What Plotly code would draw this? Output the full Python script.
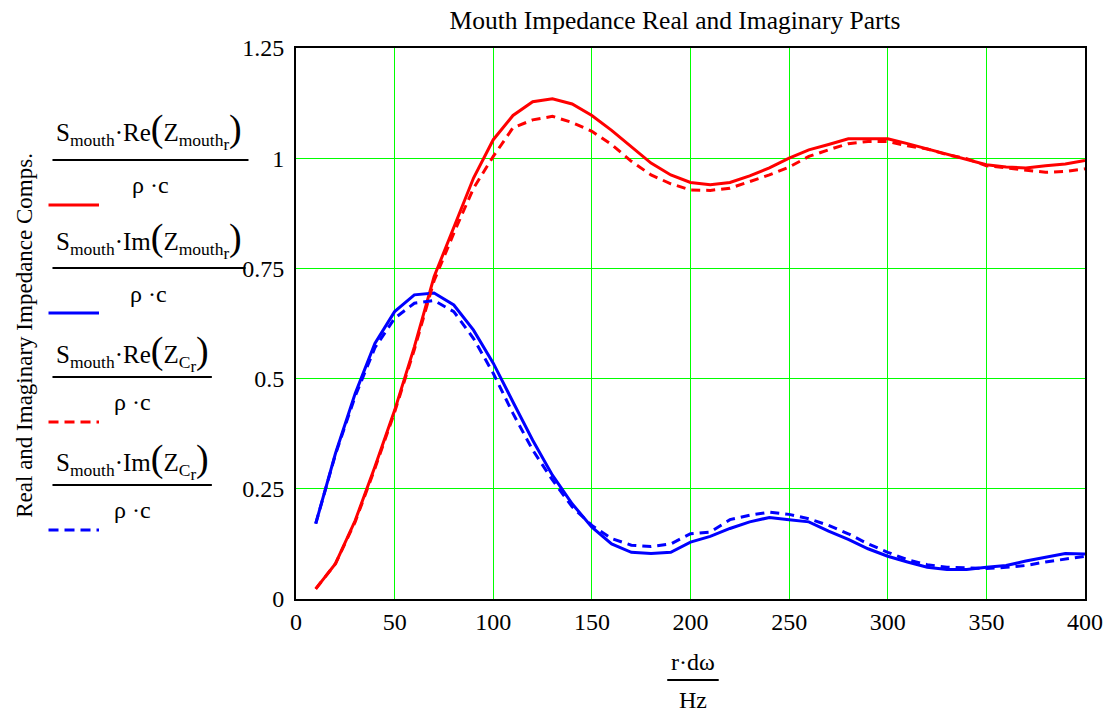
import plotly.graph_objects as go

# Frequency samples (Hz)
freq = list(range(10, 410, 10))

# Normalised mouth impedance, real and imaginary parts
re_mouth = [0.023, 0.080, 0.178, 0.300, 0.428, 0.572, 0.731, 0.845, 0.955, 1.042,
            1.097, 1.128, 1.135, 1.123, 1.097, 1.063, 1.027, 0.989, 0.962, 0.945,
            0.940, 0.945, 0.960, 0.978, 1.000, 1.019, 1.031, 1.044, 1.044, 1.044,
            1.033, 1.021, 1.008, 0.997, 0.985, 0.980, 0.978, 0.983, 0.987, 0.995]
im_mouth = [0.171, 0.330, 0.466, 0.580, 0.652, 0.690, 0.694, 0.667, 0.610, 0.535,
            0.447, 0.360, 0.281, 0.216, 0.163, 0.125, 0.106, 0.103, 0.106, 0.129,
            0.142, 0.160, 0.175, 0.185, 0.180, 0.175, 0.154, 0.135, 0.114, 0.097,
            0.084, 0.072, 0.067, 0.067, 0.072, 0.076, 0.086, 0.095, 0.103, 0.102]
# Normalised circular-piston impedance, real and imaginary parts
re_c = [0.023, 0.080, 0.175, 0.296, 0.424, 0.566, 0.722, 0.830, 0.932, 1.004,
        1.069, 1.087, 1.095, 1.081, 1.061, 1.031, 0.993, 0.962, 0.942, 0.928,
        0.927, 0.932, 0.947, 0.962, 0.980, 1.004, 1.019, 1.033, 1.038, 1.038,
        1.028, 1.021, 1.008, 0.999, 0.983, 0.978, 0.972, 0.968, 0.970, 0.976]
im_c = [0.171, 0.328, 0.460, 0.570, 0.637, 0.671, 0.677, 0.652, 0.591, 0.512,
        0.421, 0.338, 0.270, 0.209, 0.167, 0.137, 0.122, 0.119, 0.125, 0.148,
        0.152, 0.180, 0.190, 0.197, 0.192, 0.182, 0.167, 0.148, 0.125, 0.106,
        0.089, 0.078, 0.072, 0.070, 0.069, 0.072, 0.076, 0.084, 0.091, 0.097]

x_ticks = [0, 50, 100, 150, 200, 250, 300, 350, 400]
y_ticks = [0, 0.25, 0.5, 0.75, 1, 1.25]
y_tick_text = ["0", "0.25", "0.5", "0.75", "1", "1.25"]

RED = "#ff0000"
BLUE = "#0000ff"
SERIF = "Liberation Serif, Times New Roman, serif"
DASH = "9px,6px"
FS = 24

W, H = 1115, 713
L, R, T, B = 296, 22, 48, 114
PW, PH = W - L - R, H - T - B


def px(x):
    return (x - L) / PW


def py(y):
    return (H - B - y) / PH


fig = go.Figure()
series = [
    (re_mouth, RED, "solid"),
    (im_mouth, BLUE, "solid"),
    (re_c, RED, DASH),
    (im_c, BLUE, DASH),
]
for vals, col, dash in series:
    fig.add_trace(go.Scatter(x=freq, y=vals, mode="lines",
                             line=dict(color=col, width=3, dash=dash),
                             showlegend=False))

BIG = "<span style='font-size:38px'>%s</span>"
R_SUB = "<sub><span style='font-size:17px'>r</span></sub>"
numerators = [
    "S<sub>mouth</sub>·Re" + BIG % "(" + "Z<sub>mouth" + R_SUB + "</sub>" + BIG % ")",
    "S<sub>mouth</sub>·Im" + BIG % "(" + "Z<sub>mouth" + R_SUB + "</sub>" + BIG % ")",
    "S<sub>mouth</sub>·Re" + BIG % "(" + "Z<sub>C" + R_SUB + "</sub>" + BIG % ")",
    "S<sub>mouth</sub>·Im" + BIG % "(" + "Z<sub>C" + R_SUB + "</sub>" + BIG % ")",
]
# legend block layout (pixel coordinates)
num_y = [130, 239, 352, 460]
bar_y = [160, 268, 377, 485]
bar_x1 = [248, 245, 211, 211]
den_y = [185, 294, 402, 510]
swatch_y = [205, 313, 422, 530]
swatch_style = [(RED, "solid"), (BLUE, "solid"), (RED, "dash"), (BLUE, "dash")]

annotations = []
shapes = []
for i in range(4):
    annotations.append(dict(x=px(52), y=py(num_y[i]), xref="paper", yref="paper",
                            text=numerators[i], showarrow=False, xanchor="left",
                            yanchor="middle", font=dict(family=SERIF, size=25, color="black")))
    annotations.append(dict(x=px((50 + bar_x1[i]) / 2), y=py(den_y[i]), xref="paper",
                            yref="paper", text="ρ ·c", showarrow=False, xanchor="center",
                            yanchor="middle", font=dict(family=SERIF, size=FS, color="black")))
    shapes.append(dict(type="line", xref="paper", yref="paper",
                       x0=px(50), x1=px(bar_x1[i]), y0=py(bar_y[i]), y1=py(bar_y[i]),
                       line=dict(color="black", width=2)))
    col, st = swatch_style[i]
    shapes.append(dict(type="line", xref="paper", yref="paper",
                       x0=px(46), x1=px(97), y0=py(swatch_y[i]), y1=py(swatch_y[i]),
                       line=dict(color=col, width=3,
                                 dash="solid" if st == "solid" else "10px,6px")))

# x-axis title as a fraction
annotations.append(dict(x=px(697), y=py(662), xref="paper", yref="paper", text="r·dω",
                        showarrow=False, xanchor="center", yanchor="middle",
                        font=dict(family=SERIF, size=FS, color="black")))
annotations.append(dict(x=px(697), y=py(700), xref="paper", yref="paper", text="Hz",
                        showarrow=False, xanchor="center", yanchor="middle",
                        font=dict(family=SERIF, size=FS, color="black")))
shapes.append(dict(type="line", xref="paper", yref="paper", x0=px(671), x1=px(723),
                   y0=py(680), y1=py(680), line=dict(color="black", width=2)))

# y-axis title
annotations.append(dict(x=px(22), y=py(335), xref="paper", yref="paper",
                        text="Real and Imaginary Impedance Comps.", textangle=-90,
                        showarrow=False, xanchor="center", yanchor="middle",
                        font=dict(family=SERIF, size=23, color="black")))

fig.update_layout(
    width=W, height=H,
    margin=dict(l=L, r=R, t=T, b=B),
    paper_bgcolor="white", plot_bgcolor="white",
    title=dict(text="Mouth Impedance Real and Imaginary Parts", x=675 / W, y=1 - 20 / H,
               xanchor="center", yanchor="middle",
               font=dict(family=SERIF, size=25.5, color="black")),
    xaxis=dict(range=[0, 400], tickvals=x_ticks, showgrid=True, gridcolor="#00ff00",
               gridwidth=1, showline=True, linecolor="black", linewidth=2, mirror=True,
               ticks="", zeroline=False, ticklabelstandoff=0,
               tickfont=dict(family=SERIF, size=FS, color="black")),
    yaxis=dict(range=[0, 1.25], tickvals=y_ticks, ticktext=y_tick_text, showgrid=True,
               gridcolor="#00ff00", gridwidth=1, showline=True, linecolor="black",
               linewidth=2, mirror=True, ticks="", zeroline=False, ticklabelstandoff=5,
               tickfont=dict(family=SERIF, size=FS, color="black")),
    annotations=annotations,
    shapes=shapes,
)

fig.write_html("out.html")
